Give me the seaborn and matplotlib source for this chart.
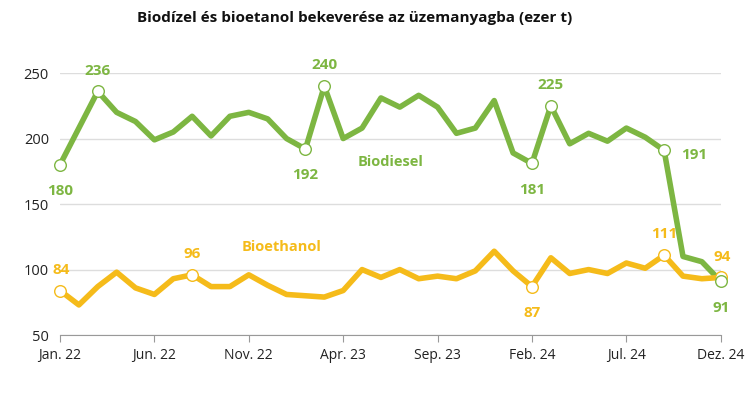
import numpy as np
import pandas as pd
import seaborn as sns
import matplotlib.pyplot as plt

# Havi adatok, 2022 jan - 2024 dec (ezer t)
months = ["Jan. 22", "Feb. 22", "Mär. 22", "Apr. 22", "Mai. 22", "Jun. 22", "Jul. 22", "Aug. 22",
          "Sep. 22", "Okt. 22", "Nov. 22", "Dez. 22", "Jan. 23", "Feb. 23", "Mär. 23", "Apr. 23",
          "Mai. 23", "Jun. 23", "Jul. 23", "Aug. 23", "Sep. 23", "Okt. 23", "Nov. 23", "Dez. 23",
          "Jan. 24", "Feb. 24", "Mär. 24", "Apr. 24", "Mai. 24", "Jun. 24", "Jul. 24", "Aug. 24",
          "Sep. 24", "Okt. 24", "Nov. 24", "Dez. 24"]
biodiesel = [180, 208, 236, 220, 213, 199, 205, 217, 202, 217, 220, 215,
             200, 192, 240, 200, 208, 231, 224, 233, 224, 204, 208, 229,
             189, 181, 225, 196, 204, 198, 208, 201, 191, 110, 106, 91]
bioethanol = [84, 73, 87, 98, 86, 81, 93, 96, 87, 87, 96, 88,
              81, 80, 79, 84, 100, 94, 100, 93, 95, 93, 99, 114,
              99, 87, 109, 97, 100, 97, 105, 101, 111, 95, 93, 94]
tick_idx = [0, 5, 10, 15, 20, 25, 30, 35]

# kiemelt pontok: index, felirat eltolás (pont)
bd_marks = {0: (0, -19), 2: (0, 15), 13: (0, -19), 14: (0, 15), 25: (0, -19), 26: (0, 15),
            32: (22, -3), 35: (0, -19)}
be_marks = {0: (1, 15), 7: (0, 15), 25: (0, -19), 32: (0, 15), 35: (1, 15)}

green = "#7db642"
yellow = "#f5bb1a"

df = pd.DataFrame({
    "x": list(range(len(months))) * 2,
    "value": biodiesel + bioethanol,
    "series": ["Biodiesel"] * len(months) + ["Bioethanol"] * len(months),
})

sns.set_style("white")
plt.rcParams['font.family'] = ['Open Sans', 'DejaVu Sans']

fig = plt.figure(figsize=(7.5, 3.97), dpi=100)
ax = fig.add_axes([0.08, 0.156, 0.881, 0.66])

sns.lineplot(data=df, x="x", y="value", hue="series", palette=[green, yellow],
             linewidth=4, legend=False, ax=ax, solid_joinstyle="round", solid_capstyle="round")

for vals, marks, col, z in [(bioethanol, be_marks, yellow, 5), (biodiesel, bd_marks, green, 6)]:
    idx = list(marks.keys())
    ax.scatter(idx, [vals[i] for i in idx], s=70, facecolor="white", edgecolor=col,
               linewidth=1, zorder=z, clip_on=False)
    for i, (dx, dy) in marks.items():
        ax.annotate(str(vals[i]), (i, vals[i]), xytext=(dx, dy), textcoords="offset points",
                    ha="center", va="center", color=col, fontsize=11, fontweight="bold")

ax.text(17.5, 182, "Biodiesel", color=green, fontsize=10.5, fontweight="bold", ha="center", va="center")
ax.text(11.75, 117, "Bioethanol", color=yellow, fontsize=10.5, fontweight="bold", ha="center", va="center")

ax.set_xlim(0, 35)
ax.set_ylim(50, 250)
ax.set_yticks([50, 100, 150, 200, 250])
ax.set_xticks(tick_idx)
ax.set_xticklabels([months[i] for i in tick_idx])
ax.yaxis.grid(True, color="#dddddd", linewidth=1)
ax.set_axisbelow(True)
for s in ["top", "right", "left"]:
    ax.spines[s].set_visible(False)
ax.spines["bottom"].set_color("#999999")
ax.tick_params(axis="x", length=5, color="#999999", labelsize=10, labelcolor="#222222", pad=4, direction="out", bottom=True)
ax.tick_params(axis="y", length=0, labelsize=10.5, labelcolor="#222222", pad=8)
ax.set_xlabel("")
ax.set_ylabel("")

fig.text(0.473, 0.955, "Biodízel és bioetanol bekeverése az üzemanyagba (ezer t)",
         ha="center", va="center", fontsize=11, fontweight="bold", color="#111111")

fig.savefig("out.png", dpi=100)
